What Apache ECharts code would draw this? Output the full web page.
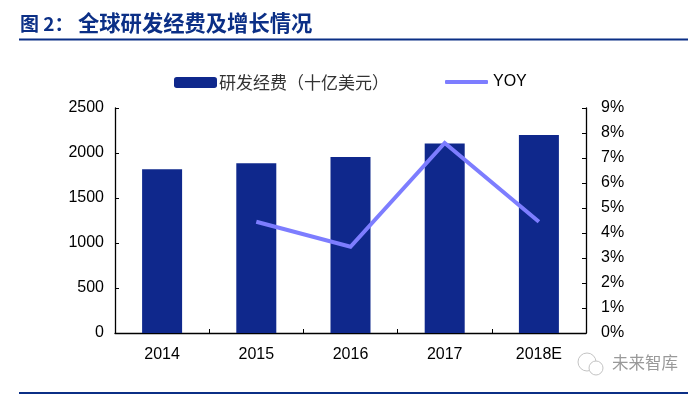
<!DOCTYPE html>
<html>
<head>
<meta charset="utf-8">
<script src="https://cdn.jsdelivr.net/npm/echarts@6/dist/echarts.min.js"></script>
<style>
  html, body { margin: 0; padding: 0; background: #fff; }
  #chart { width: 700px; height: 395px; }
</style>
</head>
<body>
<div id="chart"></div>
<script>
const categories = ['2014', '2015', '2016', '2017', '2018E'];
const spending = [1820, 1885, 1955, 2105, 2200];
const yoy = [null, 4.45, 3.45, 7.6, 4.45];

const fontLatin = 'Liberation Sans';
const fontCjk = '"Noto Sans CJK SC"';
const navy = '#0f288c';
const lilac = '#7d7dff';
const ruleBlue = '#0b2f86';

const chart = echarts.init(document.getElementById('chart'), null, { renderer: 'canvas' });

const axisLine = { show: true, lineStyle: { color: '#000', width: 1.3 } };
const axisTick = { show: true, inside: true, length: 4, lineStyle: { color: '#000', width: 1 } };

chart.setOption({
  animation: false,
  backgroundColor: '#fff',
  grid: { left: 115, right: 114, top: 108, bottom: 62 },
  legend: [
    {
      data: [{ name: '研发经费（十亿美元）', icon: 'roundRect' }],
      left: 174, top: 74, padding: 0, itemWidth: 43, itemHeight: 11, itemGap: 4, selectedMode: false,
      textStyle: { fontFamily: fontCjk, fontSize: 17, color: '#333', padding: [0, 0, 0, -3] }
    },
    {
      data: [{ name: 'YOY', icon: 'roundRect', itemStyle: { color: lilac } }],
      left: 445, top: 74, padding: 0, itemWidth: 43, itemHeight: 4, itemGap: 3, selectedMode: false,
      textStyle: { fontFamily: fontLatin, fontSize: 16, color: '#000' }
    }
  ],
  xAxis: {
    type: 'category',
    data: categories,
    axisLine,
    axisTick,
    axisLabel: { color: '#000', fontFamily: fontLatin, fontSize: 16, margin: 14 }
  },
  yAxis: [
    {
      type: 'value', min: 0, max: 2500, interval: 500,
      axisLine, axisTick, splitLine: { show: false },
      axisLabel: { color: '#000', fontFamily: fontLatin, fontSize: 16, margin: 11, formatter: (v) => String(v) }
    },
    {
      type: 'value', min: 0, max: 9, interval: 1,
      axisLine, axisTick, splitLine: { show: false },
      axisLabel: { color: '#000', fontFamily: fontLatin, fontSize: 16, margin: 15, formatter: '{value}%' }
    }
  ],
  series: [
    {
      name: '研发经费（十亿美元）',
      type: 'bar',
      data: spending,
      barWidth: 40,
      itemStyle: { color: navy }
    },
    {
      name: 'YOY',
      type: 'line',
      yAxisIndex: 1,
      data: yoy,
      symbol: 'none',
      lineStyle: { color: lilac, width: 4, join: 'miter' },
      itemStyle: { color: lilac }
    }
  ],
  graphic: [
    { type: 'text', left: 20, top: 14, style: { text: '图 2：', fill: ruleBlue, font: 'bold 19px "Noto Sans CJK SC"' } },
    { type: 'text', left: 78, top: 12, style: { text: '全球研发经费及增长情况', fill: ruleBlue, font: 'bold 21.3px "Noto Sans CJK SC"' } },
    { type: 'rect', shape: { x: 19, y: 38.5, width: 669, height: 2 }, style: { fill: ruleBlue } },
    { type: 'rect', shape: { x: 19, y: 392, width: 669, height: 2 }, style: { fill: ruleBlue } },
    // wechat style watermark
    { type: 'circle', shape: { cx: 587, cy: 362, r: 9 }, style: { fill: '#fff', stroke: '#c4c4c4', lineWidth: 1 } },
    { type: 'circle', shape: { cx: 596, cy: 368, r: 7 }, style: { fill: '#fff', stroke: '#c4c4c4', lineWidth: 1 } },
    { type: 'text', left: 612, top: 354, style: { text: '未来智库', fill: '#999', font: '16.5px "Noto Sans CJK SC"' } }
  ]
});
</script>
</body>
</html>
